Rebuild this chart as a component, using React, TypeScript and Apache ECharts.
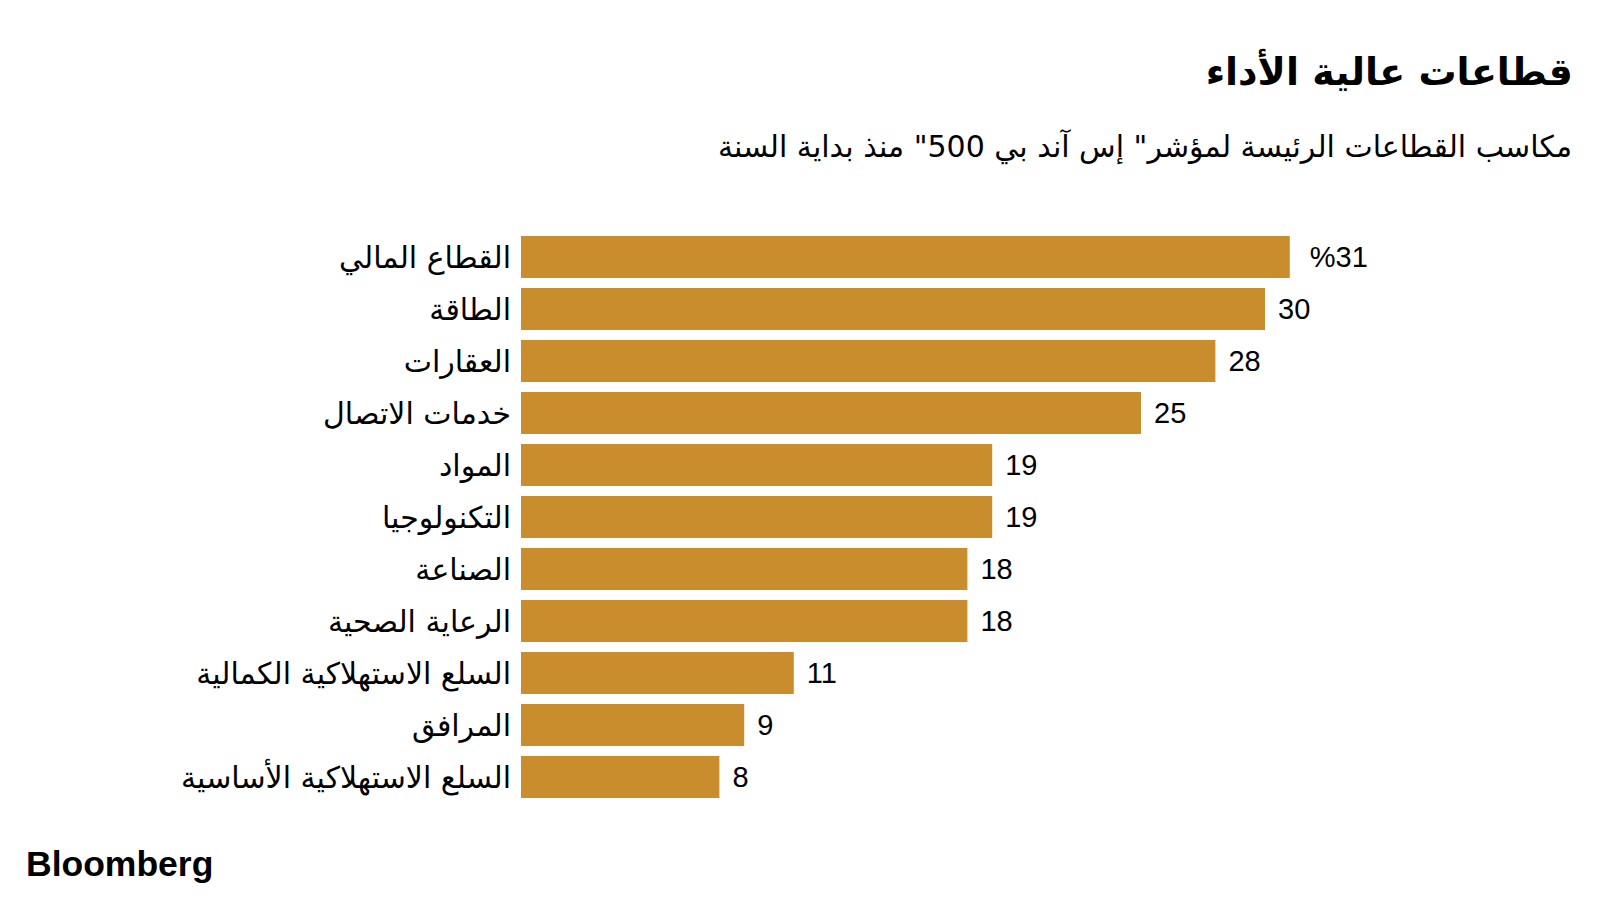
import React, { useEffect, useRef } from "react";
import * as echarts from "echarts";

const categories: string[] = [
  "القطاع المالي",
  "الطاقة",
  "العقارات",
  "خدمات الاتصال",
  "المواد",
  "التكنولوجيا",
  "الصناعة",
  "الرعاية الصحية",
  "السلع الاستهلاكية الكمالية",
  "المرافق",
  "السلع الاستهلاكية الأساسية",
];

const gains: number[] = [31, 30, 28, 25, 19, 19, 18, 18, 11, 9, 8];

const titleText = "قطاعات عالية الأداء";
const subtitleText = 'مكاسب القطاعات الرئيسة لمؤشر" إس آند بي 500" منذ بداية السنة';
const sourceText = "Bloomberg";

const BAR_COLOR = "#CA8D2E";
const ARABIC_FONT = "'DejaVu Sans', sans-serif";
const LATIN_FONT = "'Liberation Sans', Arial, sans-serif";

export default function App() {
  const ref = useRef<HTMLDivElement>(null);

  useEffect(() => {
    if (!ref.current) return;
    const chart = echarts.init(ref.current, undefined, { renderer: "svg" });
    const seriesData = gains.map((v, i) => ({
      value: v,
      label: { distance: i === 0 ? 20 : 13 },
    }));
    chart.setOption({
      animation: false,
      backgroundColor: "#ffffff",
      title: [
        {
          text: titleText,
          right: 22,
          top: 48,
          textStyle: {
            fontFamily: ARABIC_FONT,
            fontWeight: "bold",
            fontSize: 38,
            color: "#000000",
          },
        },
        {
          text: subtitleText,
          right: 23,
          top: 126,
          textStyle: {
            fontFamily: ARABIC_FONT,
            fontWeight: "normal",
            fontSize: 30,
            color: "#000000",
          },
        },
      ],
      grid: {
        left: 521,
        top: 231,
        width: 868,
        height: 572,
        containLabel: false,
      },
      xAxis: {
        type: "value",
        min: 0,
        max: 35,
        show: false,
      },
      yAxis: {
        type: "category",
        inverse: true,
        data: categories,
        axisLine: { show: false },
        axisTick: { show: false },
        splitLine: { show: false },
        axisLabel: {
          margin: 10,
          fontFamily: ARABIC_FONT,
          fontSize: 30,
          color: "#000000",
        },
      },
      series: [
        {
          type: "bar",
          data: seriesData,
          barWidth: 42,
          itemStyle: { color: BAR_COLOR },
          label: {
            show: true,
            position: "right",
            fontFamily: LATIN_FONT,
            fontSize: 29,
            color: "#000000",
            formatter: (p: any) => (p.dataIndex === 0 ? "%" + p.value : String(p.value)),
          },
        },
      ],
      graphic: [
        {
          type: "text",
          left: 26,
          top: 846,
          style: {
            text: sourceText,
            fontFamily: LATIN_FONT,
            fontWeight: "bold",
            fontSize: 35.5,
            fill: "#000000",
          },
        },
      ],
    });
    return () => chart.dispose();
  }, []);

  return (
    <div
      ref={ref}
      style={{ position: "fixed", left: 0, top: 0, width: 1600, height: 900 }}
    />
  );
}
